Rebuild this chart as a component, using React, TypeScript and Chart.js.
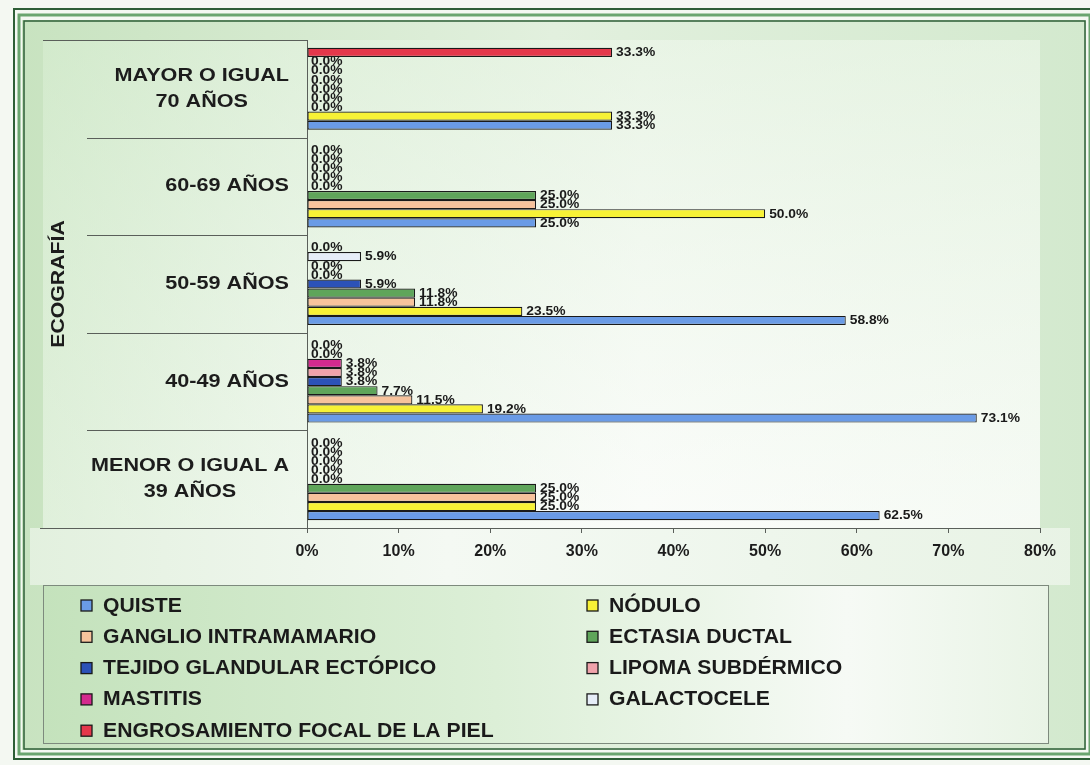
import { useEffect, useRef } from "react";
import { Chart, registerables } from "chart.js";

Chart.register(...registerables);

const FONT = "'Liberation Sans', Arial, Helvetica, sans-serif";

// Categories, top to bottom
const categories: string[][] = [
  ["MAYOR O IGUAL", "70 AÑOS"],
  ["60-69 AÑOS"],
  ["50-59 AÑOS"],
  ["40-49 AÑOS"],
  ["MENOR O IGUAL A", "39 AÑOS"],
];
const axisTitle = "ECOGRAFÍA";

const seriesNames = [
  "QUISTE",
  "NÓDULO",
  "GANGLIO INTRAMAMARIO",
  "ECTASIA DUCTAL",
  "TEJIDO GLANDULAR ECTÓPICO",
  "LIPOMA SUBDÉRMICO",
  "MASTITIS",
  "GALACTOCELE",
  "ENGROSAMIENTO FOCAL DE LA PIEL",
];
const seriesColors = [
  "#6a9be6",
  "#f7f236",
  "#f7c39c",
  "#5fa55a",
  "#2c52b8",
  "#f0a3ab",
  "#d42a8e",
  "#e6edf8",
  "#e4384b",
];

// values (%) per category, top to bottom
const quiste = [33.3, 25.0, 58.8, 73.1, 62.5];
const nodulo = [33.3, 50.0, 23.5, 19.2, 25.0];
const ganglio = [0.0, 25.0, 11.8, 11.5, 25.0];
const ectasia = [0.0, 25.0, 11.8, 7.7, 25.0];
const tejido = [0.0, 0.0, 5.9, 3.8, 0.0];
const lipoma = [0.0, 0.0, 0.0, 3.8, 0.0];
const mastitis = [0.0, 0.0, 0.0, 3.8, 0.0];
const galactocele = [0.0, 0.0, 5.9, 0.0, 0.0];
const engrosamiento = [33.3, 0.0, 0.0, 0.0, 0.0];

const seriesValues = [quiste, nodulo, ganglio, ectasia, tejido, lipoma, mastitis, galactocele, engrosamiento];

const xMin = 0;
const xMax = 80;
const xStep = 10;

function stretchText(ctx: CanvasRenderingContext2D, text: string, x: number, y: number, sx: number, align: CanvasTextAlign) {
  ctx.save();
  ctx.translate(x, y);
  ctx.scale(sx, 1);
  ctx.textAlign = align;
  ctx.fillText(text, 0, 0);
  ctx.restore();
}

const backgroundPlugin = {
  id: "bgFrame",
  beforeDraw(chart: any) {
    const { ctx, width, height, chartArea } = chart;
    ctx.save();
    ctx.fillStyle = "#f4f8f2";
    ctx.fillRect(0, 0, width, height);
    // interior of frame
    let g = ctx.createLinearGradient(22, 0, 1086, 0);
    g.addColorStop(0, "#c8e3c0");
    g.addColorStop(0.5, "#e2f0de");
    g.addColorStop(1, "#d3e9ce");
    ctx.fillStyle = g;
    ctx.fillRect(22, 20, 1064, 730);
    // band under the plot (tick labels)
    g = ctx.createLinearGradient(22, 0, 1086, 0);
    g.addColorStop(0, "#e2f0de");
    g.addColorStop(0.4, "#f4f9f3");
    g.addColorStop(1, "#e8f3e5");
    ctx.fillStyle = g;
    ctx.fillRect(30, chartArea.bottom, 1040, 585 - chartArea.bottom);
    // panel + plot area
    g = ctx.createLinearGradient(43, 0, chartArea.right, 0);
    g.addColorStop(0, "#cfe8c8");
    g.addColorStop(0.25, "#e6f3e3");
    g.addColorStop(0.6, "#f8fbf7");
    g.addColorStop(1, "#f1f8ef");
    ctx.fillStyle = g;
    ctx.fillRect(43, chartArea.top, chartArea.right - 43, chartArea.bottom - chartArea.top);
    g = ctx.createLinearGradient(0, chartArea.top, 0, chartArea.bottom);
    g.addColorStop(0, "rgba(214,236,208,0.45)");
    g.addColorStop(1, "rgba(255,255,255,0.35)");
    ctx.fillStyle = g;
    ctx.fillRect(43, chartArea.top, chartArea.right - 43, chartArea.bottom - chartArea.top);
    // frame lines
    ctx.strokeStyle = "#2d5e36";
    ctx.lineWidth = 2;
    ctx.strokeRect(14, 9, 1082, 750);
    ctx.strokeStyle = "#6aa56f";
    ctx.lineWidth = 3;
    ctx.strokeRect(19, 15, 1071, 739);
    ctx.strokeStyle = "#2d5e36";
    ctx.lineWidth = 1.5;
    ctx.strokeRect(24, 21, 1061, 728);
    ctx.restore();
  },
};

const panelPlugin = {
  id: "panel",
  afterDraw(chart: any) {
    const { ctx, chartArea } = chart;
    const y = chart.scales.y;
    const n = categories.length;
    const band = (chartArea.bottom - chartArea.top) / n;
    ctx.save();
    ctx.strokeStyle = "#5a5f5a";
    ctx.lineWidth = 1;
    // top & bottom lines
    ctx.beginPath();
    ctx.moveTo(43, chartArea.top + 0.5);
    ctx.lineTo(chartArea.left, chartArea.top + 0.5);
    ctx.moveTo(40, chartArea.bottom + 0.5);
    ctx.lineTo(chartArea.left, chartArea.bottom + 0.5);
    for (let i = 1; i < n; i++) {
      const yy = Math.round(y.getPixelForValue(i) - band / 2) + 0.5;
      ctx.moveTo(87, yy);
      ctx.lineTo(chartArea.left, yy);
    }
    ctx.stroke();

    // category labels
    ctx.fillStyle = "#1c1c1c";
    ctx.font = `bold 18px ${FONT}`;
    ctx.textBaseline = "middle";
    const sx = 1.2;
    const rightEdge = 289;
    const lh = 26;
    categories.forEach((lines, i) => {
      const cy = y.getPixelForValue(i);
      const w = Math.max(...lines.map((l) => ctx.measureText(l).width * sx));
      const cx = rightEdge - w / 2;
      lines.forEach((l, k) => {
        const ly = cy + (k - (lines.length - 1) / 2) * lh;
        stretchText(ctx, l, cx, ly, sx, "center");
      });
    });

    // axis title rotated
    ctx.save();
    ctx.translate(59, (chartArea.top + chartArea.bottom) / 2);
    ctx.rotate(-Math.PI / 2);
    ctx.font = `bold 18px ${FONT}`;
    ctx.scale(1.18, 1);
    ctx.textAlign = "center";
    ctx.fillText(axisTitle, 0, 0);
    ctx.restore();
    ctx.restore();
  },
};

const dataLabelPlugin = {
  id: "valueLabels",
  afterDatasetsDraw(chart: any) {
    const { ctx } = chart;
    ctx.save();
    ctx.fillStyle = "#1a1a1a";
    ctx.font = `bold 12px ${FONT}`;
    ctx.textBaseline = "middle";
    chart.data.datasets.forEach((ds: any, di: number) => {
      const meta = chart.getDatasetMeta(di);
      meta.data.forEach((el: any, i: number) => {
        const v = ds.data[i] as number;
        stretchText(ctx, v.toFixed(1) + "%", el.x + 4, el.y + 0.5, 1.15, "left");
      });
    });
    ctx.restore();
  },
};

const legendPlugin = {
  id: "customLegend",
  afterDraw(chart: any) {
    const { ctx } = chart;
    ctx.save();
    const bx = 43, by = 585, bw = 1005, bh = 158;
    const g = ctx.createLinearGradient(bx, 0, bx + bw, 0);
    g.addColorStop(0, "#c4e2bc");
    g.addColorStop(0.45, "#dcefd7");
    g.addColorStop(0.8, "#f6faf5");
    g.addColorStop(1, "#e9f4e6");
    ctx.fillStyle = g;
    ctx.fillRect(bx, by, bw, bh);
    ctx.strokeStyle = "#7d8a7d";
    ctx.lineWidth = 1;
    ctx.strokeRect(bx + 0.5, by + 0.5, bw, bh);

    ctx.font = `bold 20px ${FONT}`;
    ctx.textBaseline = "middle";
    seriesNames.forEach((name, idx) => {
      const row = Math.floor(idx / 2);
      const col = idx % 2;
      const cy = 605 + row * 31.3;
      const sxp = col === 0 ? 81 : 587;
      const tx = col === 0 ? 103 : 609;
      ctx.fillStyle = seriesColors[idx];
      ctx.fillRect(sxp, cy - 5, 11, 11);
      ctx.strokeStyle = "#1a1a1a";
      ctx.lineWidth = 1.3;
      ctx.strokeRect(sxp, cy - 5, 11, 11);
      ctx.fillStyle = "#1a1a1a";
      stretchText(ctx, name, tx, cy + 1, 1.06, "left");
    });
    ctx.restore();
  },
};

export default function App() {
  const canvasRef = useRef<HTMLCanvasElement | null>(null);

  useEffect(() => {
    if (!canvasRef.current) return;
    // datasets listed top-to-bottom inside each group (last series on top)
    const order = seriesNames.map((_, i) => i).reverse();
    const datasets = order.map((i) => ({
      label: seriesNames[i],
      data: seriesValues[i],
      backgroundColor: seriesColors[i],
      borderColor: "#1a1a1a",
      borderWidth: 1.2,
      borderSkipped: false,
      categoryPercentage: 0.84,
      barPercentage: 1.0,
    }));
    const chart = new Chart(canvasRef.current, {
      type: "bar",
      data: {
        labels: categories.map((c) => c.join(" ")),
        datasets: datasets as any,
      },
      options: {
        indexAxis: "y",
        animation: false,
        responsive: false,
        layout: { padding: { left: 0, top: 40, right: 50, bottom: 0 } },
        plugins: {
          legend: { display: false },
          tooltip: { enabled: false },
        },
        scales: {
          x: {
            type: "linear",
            min: xMin,
            max: xMax,
            ticks: {
              stepSize: xStep,
              callback: (v: any) => `${v}%`,
              font: { family: FONT, size: 16, weight: "bold" },
              color: "#1c1c1c",
              padding: 9,
            },
            grid: { drawOnChartArea: false, drawTicks: true, tickLength: 5, color: "#5a5f5a" },
            border: { display: true, color: "#5a5f5a", width: 1 },
            afterFit: (s: any) => {
              s.height = 765 - 528;
            },
          },
          y: {
            type: "category",
            ticks: { display: false },
            grid: { display: false },
            border: { display: true, color: "#5a5f5a", width: 1 },
            afterFit: (s: any) => {
              s.width = 307;
            },
          },
        },
      },
      plugins: [backgroundPlugin, panelPlugin, dataLabelPlugin, legendPlugin],
    });
    return () => chart.destroy();
  }, []);

  return (
    <div style={{ position: "absolute", left: 0, top: 0, width: 1090, height: 765 }}>
      <canvas ref={canvasRef} width={1090} height={765} style={{ display: "block" }} />
    </div>
  );
}
